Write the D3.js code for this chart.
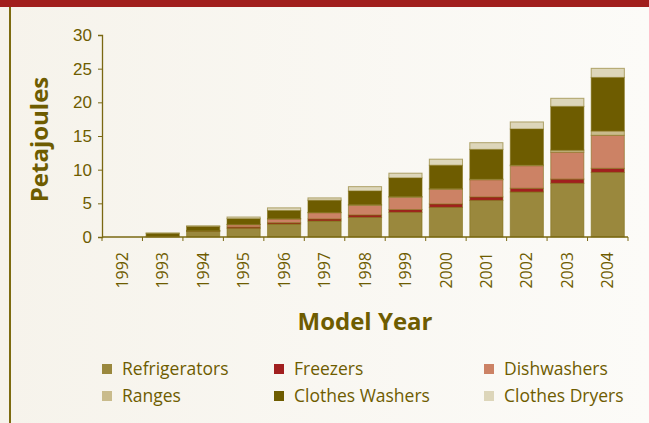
<!DOCTYPE html>
<html>
<head>
<meta charset="utf-8">
<script src="https://cdn.jsdelivr.net/npm/d3@7"></script>
<style>
  html, body { margin: 0; padding: 0; background: #f9f7f1; }
  svg { display: block; font-family: 'Open Sans', 'Noto Sans', sans-serif; }
</style>
</head>
<body>
<svg width="649" height="423"></svg>
<script>
var svg = d3.select('svg')

var years = ['1992', '1993', '1994', '1995', '1996', '1997', '1998', '1999', '2000', '2001', '2002', '2003', '2004']
var seriesNames = ['Refrigerators', 'Freezers', 'Dishwashers', 'Ranges', 'Clothes Washers', 'Clothes Dryers']

var refrigerators = [0, 0.1, 0.85, 1.29, 1.93, 2.38, 2.92, 3.67, 4.41, 5.45, 6.69, 7.98, 9.6]
var freezers = [0, 0, 0.03, 0.19, 0.2, 0.3, 0.35, 0.4, 0.5, 0.5, 0.55, 0.62, 0.6]
var dishwashers = [0, 0, 0.05, 0.35, 0.55, 0.93, 1.44, 1.84, 2.18, 2.56, 3.35, 4.0, 4.9]
var ranges = [0, 0, 0.02, 0.05, 0.05, 0.05, 0.1, 0.1, 0.1, 0.1, 0.1, 0.3, 0.65]
var clothesWashers = [0, 0.45, 0.6, 0.84, 1.2, 1.8, 2.03, 2.77, 3.47, 4.4, 5.35, 6.5, 7.95]
var clothesDryers = [0, 0.05, 0.12, 0.25, 0.4, 0.35, 0.64, 0.7, 0.9, 1.0, 1.05, 1.2, 1.35]

var yTicks = [0, 5, 10, 15, 20, 25, 30]

var colors = ['#9a883d', '#a11f1f', '#cc8265', '#c9bb8c', '#6e5c00', '#ddd6ba']
var textColor = '#6e5c00'

// build rows for the stack
var seriesValues = [refrigerators, freezers, dishwashers, ranges, clothesWashers, clothesDryers]
var rows = years.map((y, i) => {
  var obj = { year: y }
  seriesNames.forEach((s, j) => { obj[s] = seriesValues[j][i] })
  return obj
})
var stacked = d3.stack().keys(seriesNames)(rows)

// background
var defs = svg.append('defs')
var grad = defs.append('linearGradient').attr('id', 'bg').attr('x1', 0).attr('x2', 1).attr('y1', 0).attr('y2', 0)
grad.append('stop').attr('offset', '0%').attr('stop-color', '#f6f3eb')
grad.append('stop').attr('offset', '100%').attr('stop-color', '#fcfbf8')
svg.append('rect').attr('width', 649).attr('height', 423).attr('fill', 'url(#bg)')
svg.append('rect').attr('x', 0).attr('y', 0).attr('width', 649).attr('height', 7).attr('fill', '#a11f1d')
svg.append('rect').attr('x', 9).attr('y', 7).attr('width', 2).attr('height', 416).attr('fill', '#7d6b10')

var x = d3.scaleBand().domain(years).range([102, 628]).padding(0)
var y = d3.scaleLinear().domain([0, 30]).range([237, 35])

var barW = x.bandwidth() * 0.82
var barOff = (x.bandwidth() - barW) / 2

// bars
var g = svg.append('g')
stacked.forEach((layer, li) => {
  g.append('g')
    .selectAll('rect')
    .data(layer)
    .join('rect')
    .attr('x', d => x(d.data.year) + barOff)
    .attr('y', d => y(d[1]))
    .attr('width', barW)
    .attr('height', d => y(d[0]) - y(d[1]))
    .attr('fill', colors[li])
    .attr('stroke', '#7d6b10')
    .attr('stroke-opacity', 0.55)
    .attr('stroke-width', 1)
})

// y axis
var yAxis = svg.append('g')
  .attr('transform', 'translate(102,0)')
  .call(d3.axisLeft(y).tickValues(yTicks).tickSize(4).tickPadding(6))
yAxis.select('.domain').attr('stroke', '#7a6812').attr('stroke-width', 1.3)
yAxis.selectAll('.tick line').attr('stroke', '#7a6812')
yAxis.selectAll('text').attr('fill', textColor).attr('font-size', 17)

// x axis
var xAxis = svg.append('g').attr('transform', 'translate(0,237)')
xAxis.append('line').attr('x1', 102).attr('x2', 628).attr('stroke', '#7a6812').attr('stroke-width', 1.3)
xAxis.selectAll('.xt')
  .data(years.concat(['end']))
  .join('line')
  .attr('class', 'xt')
  .attr('x1', d => d === 'end' ? 628 : x(d))
  .attr('x2', d => d === 'end' ? 628 : x(d))
  .attr('y1', 0)
  .attr('y2', 4)
  .attr('stroke', '#7a6812')
xAxis.selectAll('.xl')
  .data(years)
  .join('text')
  .attr('class', 'xl')
  .attr('transform', d => 'translate(' + (x(d) + x.bandwidth() / 2) + ',15) rotate(-90)')
  .attr('text-anchor', 'end')
  .attr('dy', '0.35em')
  .attr('fill', textColor)
  .attr('font-size', 16)
  .text(d => d)

// axis titles
svg.append('text')
  .attr('transform', 'translate(48,139.5) rotate(-90)')
  .attr('text-anchor', 'middle')
  .attr('fill', textColor)
  .attr('font-size', 24)
  .attr('font-weight', 'bold')
  .text('Petajoules')

svg.append('text')
  .attr('x', 365)
  .attr('y', 330)
  .attr('text-anchor', 'middle')
  .attr('fill', textColor)
  .attr('font-size', 24)
  .attr('font-weight', 'bold')
  .text('Model Year')

// legend
var legendX = [102, 274, 484]
var legendY = [364, 391]
var legend = svg.append('g')
seriesNames.forEach((s, i) => {
  var lx = legendX[i % 3]
  var ly = legendY[Math.floor(i / 3)]
  legend.append('rect').attr('x', lx).attr('y', ly).attr('width', 10).attr('height', 10).attr('fill', colors[i])
  legend.append('text')
    .attr('x', lx + 20)
    .attr('y', ly + 11)
    .attr('fill', textColor)
    .attr('font-size', 17.5)
    .text(s)
})
</script>
</body>
</html>
